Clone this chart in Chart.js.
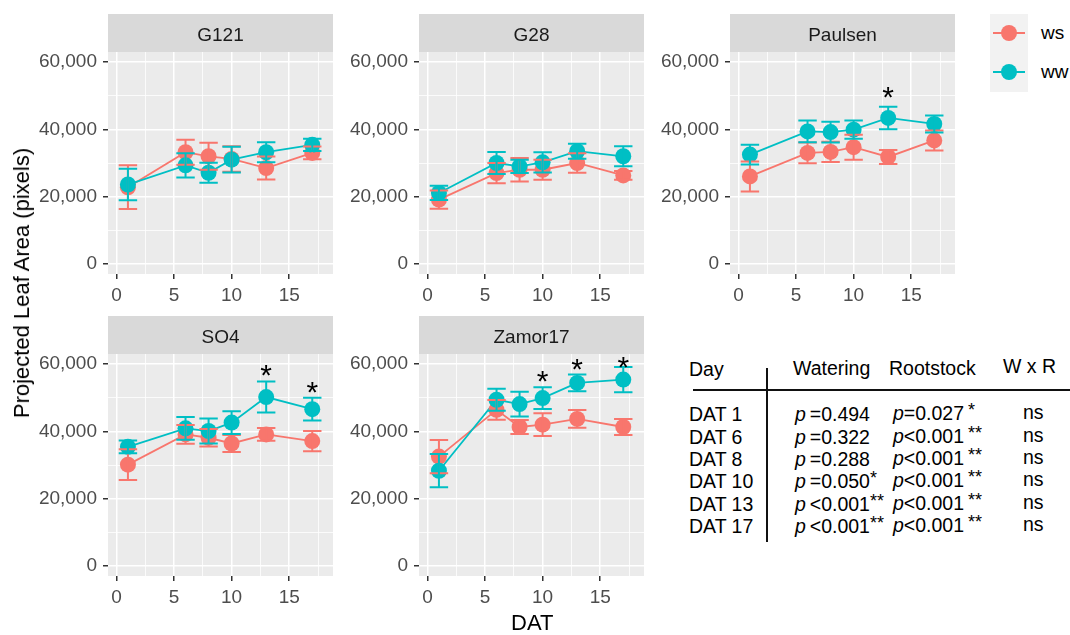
<!DOCTYPE html>
<html><head><meta charset="utf-8">
<script src="https://cdn.jsdelivr.net/npm/chart.js@4.4.1/dist/chart.umd.min.js"></script>
<style>
body{margin:0;background:#fff;width:1070px;height:635px;overflow:hidden;position:relative;font-family:"Liberation Sans",Arial,sans-serif;}
canvas{position:absolute;}
.t{position:absolute;white-space:nowrap;line-height:1;color:#000;}
.sup{font-size:18px;position:relative;top:-4px;}
</style></head><body>
<canvas id="c0" width="308" height="300"></canvas>
<canvas id="c1" width="308" height="300"></canvas>
<canvas id="c2" width="308" height="300"></canvas>
<canvas id="c3" width="308" height="300"></canvas>
<canvas id="c4" width="308" height="300"></canvas>
<div id="extra"></div>
<script>
// ---------- data ----------
const days = [1, 6, 8, 10, 13, 17];
const panelNames = ['G121', 'G28', 'Paulsen', 'SO4', 'Zamor17'];

const g121_ws    = [22800, 33200, 32000, 31200, 28500, 33000];
const g121_ws_se = [6500, 3700, 4000, 3800, 3400, 1900];
const g121_ww    = [23600, 29300, 27100, 31000, 33200, 35400];
const g121_ww_se = [4700, 3600, 3000, 3800, 3000, 1800];

const g28_ws    = [19100, 27000, 28000, 28000, 30000, 26300];
const g28_ws_se = [2700, 3000, 3500, 3000, 2900, 1300];
const g28_ww    = [21100, 30000, 29000, 30200, 33500, 32000];
const g28_ww_se = [2100, 3300, 2000, 3000, 2200, 3000];

const paulsen_ws    = [26000, 33000, 33300, 34700, 31800, 36700];
const paulsen_ws_se = [4450, 3100, 3000, 3700, 2100, 2950];
const paulsen_ww    = [32500, 39400, 39200, 39900, 43400, 41600];
const paulsen_ww_se = [2950, 3250, 3100, 2700, 3350, 2500];

const so4_ws    = [30100, 39100, 38100, 36400, 39100, 37100];
const so4_ws_se = [4550, 2800, 2600, 2500, 1900, 3000];
const so4_ww    = [35400, 40900, 40100, 42600, 50200, 46600];
const so4_ww_se = [1900, 3400, 3700, 3350, 4600, 3400];

const zamor17_ws    = [32500, 46400, 41300, 42000, 43700, 41300];
const zamor17_ws_se = [4950, 2950, 2100, 3350, 2650, 2350];
const zamor17_ww    = [28300, 49400, 48100, 49900, 54400, 55400];
const zamor17_ww_se = [4950, 3300, 3650, 3250, 2500, 3750];

// significance asterisks (day, y-value of the mark)
const g121_sigDays = [],          g121_sigY = [];
const g28_sigDays = [],           g28_sigY = [];
const paulsen_sigDays = [13],     paulsen_sigY = [51800];
const so4_sigDays = [13, 17],     so4_sigY = [59000, 53900];
const zamor17_sigDays = [10, 13, 17], zamor17_sigY = [57200, 60750, 61350];

// ticks
const yTicks = [0, 10000, 20000, 30000, 40000, 50000, 60000];
const yLabelTicks = [0, 20000, 40000, 60000];
const xTicks = [0, 2.5, 5, 7.5, 10, 12.5, 15, 17.5];
const xLabelTicks = [0, 5, 10, 15];

// table
const tableDays = ['DAT 1', 'DAT 6', 'DAT 8', 'DAT 10', 'DAT 13', 'DAT 17'];
const wateringP = ['=0.494', '=0.322', '=0.288', '=0.050', '<0.001', '<0.001'];
const wateringSig = ['', '', '', '*', '**', '**'];
const rootstockP = ['=0.027', '<0.001', '<0.001', '<0.001', '<0.001', '<0.001'];
const rootstockSig = ['*', '**', '**', '**', '**', '**'];
const wxr = ['ns', 'ns', 'ns', 'ns', 'ns', 'ns'];

const seriesNames = ['ws', 'ww'];
// ---------- styling ----------
const RED = '#F8766D', TEAL = '#00BFC4';
const FONT = '"Liberation Sans", Arial, sans-serif';

const panels = [
  {name: panelNames[0], ws: g121_ws, wsSe: g121_ws_se, ww: g121_ww, wwSe: g121_ww_se, sd: g121_sigDays, sy: g121_sigY, left: 33, top: 14},
  {name: panelNames[1], ws: g28_ws, wsSe: g28_ws_se, ww: g28_ww, wwSe: g28_ww_se, sd: g28_sigDays, sy: g28_sigY, left: 344, top: 14},
  {name: panelNames[2], ws: paulsen_ws, wsSe: paulsen_ws_se, ww: paulsen_ww, wwSe: paulsen_ww_se, sd: paulsen_sigDays, sy: paulsen_sigY, left: 655, top: 14},
  {name: panelNames[3], ws: so4_ws, wsSe: so4_ws_se, ww: so4_ww, wwSe: so4_ww_se, sd: so4_sigDays, sy: so4_sigY, left: 33, top: 316},
  {name: panelNames[4], ws: zamor17_ws, wsSe: zamor17_ws_se, ww: zamor17_ww, wwSe: zamor17_ww_se, sd: zamor17_sigDays, sy: zamor17_sigY, left: 344, top: 316},
];

const panelPlugin = {
  id: 'panelBg',
  beforeDraw(chart) {
    const {ctx, chartArea: a} = chart;
    ctx.save();
    ctx.fillStyle = '#EBEBEB';
    ctx.fillRect(a.left, a.top, a.right - a.left, a.bottom - a.top);
    const t = chart.titleBlock;
    ctx.fillStyle = '#D9D9D9';
    ctx.fillRect(a.left, t.top, a.right - a.left, a.top - t.top);
    ctx.restore();
  },
  afterDatasetsDraw(chart) {
    const {ctx, chartArea: a, scales: {x, y}} = chart;
    ctx.save();
    ctx.beginPath();
    ctx.rect(a.left, a.top, a.right - a.left, a.bottom - a.top);
    ctx.clip();
    chart.data.datasets.forEach(ds => {
      if (!ds.errors) return;
      ctx.strokeStyle = ds.backgroundColor;
      ctx.lineWidth = 2;
      ds.data.forEach((p, i) => {
        const e = ds.errors[i];
        const px = x.getPixelForValue(p.x);
        const x0 = x.getPixelForValue(p.x - 0.8), x1 = x.getPixelForValue(p.x + 0.8);
        const yh = y.getPixelForValue(p.y + e), yl = y.getPixelForValue(p.y - e);
        ctx.beginPath();
        ctx.moveTo(px, yh); ctx.lineTo(px, yl);
        ctx.moveTo(x0, yh); ctx.lineTo(x1, yh);
        ctx.moveTo(x0, yl); ctx.lineTo(x1, yl);
        ctx.stroke();
      });
    });
    const sig = chart.options.plugins.panelBg;
    ctx.fillStyle = '#000';
    ctx.font = '30px ' + FONT;
    ctx.textAlign = 'center';
    ctx.textBaseline = 'alphabetic';
    sig.days.forEach((d, i) => {
      ctx.fillText('*', x.getPixelForValue(d), y.getPixelForValue(sig.vals[i]) + 0.57 * 30);
    });
    ctx.restore();
  }
};

function pts(vals) { return days.map((d, i) => ({x: d, y: vals[i]})); }

panels.forEach((p, k) => {
  const cv = document.getElementById('c' + k);
  cv.style.left = p.left + 'px';
  cv.style.top = p.top + 'px';
  new Chart(cv, {
    type: 'line',
    data: {
      datasets: [
        {label: seriesNames[0], data: pts(p.ws), borderColor: RED, borderWidth: 1.8, pointRadius: 0, order: 4, tension: 0},
        {label: seriesNames[1], data: pts(p.ww), borderColor: TEAL, borderWidth: 1.8, pointRadius: 0, order: 3, tension: 0},
        {label: seriesNames[0], data: pts(p.ws), showLine: false, pointRadius: 8, pointBackgroundColor: RED, backgroundColor: RED, pointBorderWidth: 0, order: 2, errors: p.wsSe},
        {label: seriesNames[1], data: pts(p.ww), showLine: false, pointRadius: 8, pointBackgroundColor: TEAL, backgroundColor: TEAL, pointBorderWidth: 0, order: 1, errors: p.wwSe},
      ]
    },
    options: {
      responsive: false,
      animation: false,
      events: [],
      layout: {padding: 0},
      plugins: {
        legend: {display: false},
        tooltip: {enabled: false},
        title: {display: true, text: p.name, fullSize: false, color: '#1A1A1A',
                font: {family: FONT, size: 19, weight: 'normal'}, padding: {top: 10.6, bottom: 4.6}},
        panelBg: {days: p.sd, vals: p.sy}
      },
      scales: {
        x: {
          type: 'linear', min: -0.73, max: 18.8,
          afterBuildTicks: s => { s.ticks = xTicks.map(v => ({value: v})); },
          afterFit: s => { s.height = 40; },
          border: {display: false},
          grid: {
            color: '#FFFFFF',
            lineWidth: c => (c.tick && xLabelTicks.includes(c.tick.value)) ? 1.5 : 0.8,
            tickColor: c => (c.tick && xLabelTicks.includes(c.tick.value)) ? '#333333' : 'rgba(0,0,0,0)',
            tickLength: 5, tickWidth: 1.5
          },
          ticks: {
            autoSkip: false, maxRotation: 0, padding: 5, color: '#4D4D4D',
            font: {family: FONT, size: 19},
            callback: v => xLabelTicks.includes(v) ? String(v) : ''
          }
        },
        y: {
          type: 'linear', min: -3000, max: 63000,
          afterBuildTicks: s => { s.ticks = yTicks.map(v => ({value: v})); },
          afterFit: s => { s.width = 75; },
          border: {display: false},
          grid: {
            color: '#FFFFFF',
            lineWidth: c => (c.tick && yLabelTicks.includes(c.tick.value)) ? 1.5 : 0.8,
            tickColor: c => (c.tick && yLabelTicks.includes(c.tick.value)) ? '#333333' : 'rgba(0,0,0,0)',
            tickLength: 5, tickWidth: 1.5
          },
          ticks: {
            padding: 6, color: '#4D4D4D',
            font: {family: FONT, size: 19},
            callback: v => yLabelTicks.includes(v) ? v.toLocaleString('en-US') : ''
          }
        }
      }
    },
    plugins: [panelPlugin]
  });
});

// ---------- axis titles, legend, table (HTML text) ----------
const ex = document.getElementById('extra');
function add(html, style) {
  const d = document.createElement('div');
  d.className = 't';
  d.innerHTML = html;
  Object.assign(d.style, style);
  ex.appendChild(d);
  return d;
}
function addAtBaseline(html, x, baseline, fs, extra) {
  return add(html, Object.assign({left: x + 'px', top: (baseline - 0.8465 * fs) + 'px', fontSize: fs + 'px'}, extra || {}));
}
// y title
add('Projected Leaf Area (pixels)', {left: '22px', top: '283px', fontSize: '22px', transform: 'translate(-50%,-50%) rotate(-90deg)', lineHeight: '22px'});
// x title
addAtBaseline('DAT', 511, 631, 22);

// legend
add('', {left: '990px', top: '14px', width: '38px', height: '78px', background: '#F2F2F2'});
[[RED, 33], [TEAL, 72]].forEach(([c, cy], i) => {
  add('', {left: '993px', top: (cy - 1) + 'px', width: '32px', height: '2px', background: c});
  add('', {left: (1009 - 8) + 'px', top: (cy - 8) + 'px', width: '16px', height: '16px', borderRadius: '50%', background: c});
  addAtBaseline(seriesNames[i], 1041, cy + 6, 19);
});

// table
const TFS = 19.5;
addAtBaseline('Day', 689, 376.5, TFS);
addAtBaseline('Watering', 793, 376, TFS);
addAtBaseline('Rootstock', 889, 375.5, TFS);
addAtBaseline('W x R', 1003, 373.5, TFS);
add('', {left: '693px', top: '388.5px', width: '377px', height: '2px', background: '#111'});
add('', {left: '766px', top: '368px', width: '2px', height: '174px', background: '#111'});
tableDays.forEach((d, i) => {
  const b = 421.7 + i * 22.35;
  addAtBaseline(d, 689, b, TFS);
  addAtBaseline('<i>p</i>&thinsp;' + wateringP[i] + (wateringSig[i] ? '<span class="sup">' + wateringSig[i] + '</span>' : ''), 795, b, TFS);
  addAtBaseline('<i>p</i>' + rootstockP[i] + '&thinsp;<span class="sup">' + rootstockSig[i] + '</span>', 893, b - 1, TFS);
  addAtBaseline(wxr[i], 1023, b - 2, TFS);
});
</script>
</body></html>
